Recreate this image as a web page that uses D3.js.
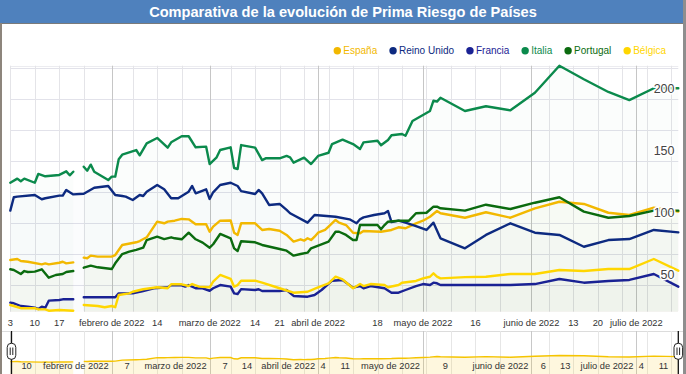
<!DOCTYPE html>
<html><head><meta charset="utf-8">
<script src="https://cdn.jsdelivr.net/npm/d3@7"></script>
<style>
html,body{margin:0;padding:0;background:#fff;}
svg{display:block;font-family:Arial,"Liberation Sans",sans-serif;}
</style></head><body>
<svg id="chart" width="686" height="374"></svg>
<script>
const title = "Comparativa de la evolución de Prima Riesgo de Países";
const seriesNames = ["España","Reino Unido","Francia","Italia","Portugal","Bélgica"];
const seriesColors = ["#f2b800","#0d2a80","#1a2294","#0b8a4c","#0b6b0f","#ffd600"];

const espana = [["2022-01-03",70.4],["2022-01-05",71.2],["2022-01-06",69.6],["2022-01-08",69.0],["2022-01-12",66.9],["2022-01-13",67.7],["2022-01-14",66.9],["2022-01-17",68.2],["2022-01-18",69.0],["2022-01-19",67.7],["2022-01-21",68.5],["2022-01-22",null],["2022-01-24",72.3],["2022-01-25",71.8],["2022-01-26",73.9],["2022-01-28",73.1],["2022-02-01",73.1],["2022-02-02",74.4],["2022-02-04",82.5],["2022-02-08",84.7],["2022-02-09",85.7],["2022-02-11",88.7],["2022-02-14",101.3],["2022-02-16",100.0],["2022-02-17",101.3],["2022-02-19",102.1],["2022-02-21",103.5],["2022-02-23",103.2],["2022-02-25",99.2],["2022-02-28",99.2],["2022-03-01",93.2],["2022-03-02",97.3],["2022-03-04",102.1],["2022-03-07",102.3],["2022-03-08",92.4],["2022-03-09",90.6],["2022-03-10",100.0],["2022-03-14",100.0],["2022-03-16",94.6],["2022-03-18",95.4],["2022-03-21",94.0],["2022-03-23",90.6],["2022-03-25",85.2],["2022-03-27",87.1],["2022-03-28",86.0],["2022-03-29",87.9],["2022-03-30",86.5],["2022-03-31",89.2],["2022-04-01",92.4],["2022-04-03",94.6],["2022-04-04",97.3],["2022-04-06",102.7],["2022-04-07",100.5],["2022-04-09",98.6],["2022-04-11",92.4],["2022-04-13",91.9],["2022-04-14",93.8],["2022-04-19",93.2],["2022-04-22",94.6],["2022-04-24",96.8],["2022-04-26",96.0],["2022-04-27",97.3],["2022-04-29",100.0],["2022-05-01",102.1],["2022-05-03",105.3],["2022-05-05",109.9],["2022-05-06",108.1],["2022-05-13",104.5],["2022-05-19",108.9],["2022-05-26",104.5],["2022-06-02",112.1],["2022-06-09",117.4],["2022-06-16",115.6],["2022-06-23",108.5],["2022-06-29",106.7],["2022-07-06",112.6],["2022-07-13",109.4]];

const reinoUnido = [["2022-01-03",110.2],["2022-01-04",121.0],["2022-01-05",121.5],["2022-01-10",122.8],["2022-01-12",119.4],["2022-01-13",120.2],["2022-01-17",122.3],["2022-01-18",122.3],["2022-01-19",126.9],["2022-01-20",125.0],["2022-01-21",123.3],["2022-01-24",123.8],["2022-01-27",128.7],["2022-01-31",130.1],["2022-02-02",122.8],["2022-02-04",122.0],["2022-02-05",121.5],["2022-02-07",118.8],["2022-02-09",122.8],["2022-02-10",122.0],["2022-02-11",125.5],["2022-02-14",130.9],["2022-02-16",127.4],["2022-02-18",120.2],["2022-02-20",120.2],["2022-02-23",125.5],["2022-02-24",130.1],["2022-02-25",124.2],["2022-02-28",127.4],["2022-03-01",119.6],["2022-03-02",125.0],["2022-03-04",130.9],["2022-03-07",132.7],["2022-03-09",130.1],["2022-03-10",126.0],["2022-03-14",123.6],["2022-03-15",126.9],["2022-03-16",124.2],["2022-03-18",114.8],["2022-03-21",115.6],["2022-03-23",110.8],["2022-03-24",108.1],["2022-03-29",100.5],["2022-03-31",106.7],["2022-04-06",105.3],["2022-04-10",103.2],["2022-04-12",100.0],["2022-04-13",103.2],["2022-04-14",104.8],["2022-04-17",106.7],["2022-04-20",108.1],["2022-04-21",109.9],["2022-04-22",101.0],["2022-04-24",102.1],["2022-04-26",100.5],["2022-04-29",97.8],["2022-05-02",94.6],["2022-05-04",100.5],["2022-05-06",87.9],["2022-05-13",79.8],["2022-05-19",90.6],["2022-05-26",100.0],["2022-06-02",92.4],["2022-06-09",90.6],["2022-06-16",81.1],["2022-06-23",86.5],["2022-06-29",87.3],["2022-07-06",94.6],["2022-07-13",92.7]];

const francia = [["2022-01-03",36.0],["2022-01-04",35.5],["2022-01-06",33.3],["2022-01-08",32.7],["2022-01-10",31.9],["2022-01-11",30.9],["2022-01-12",32.7],["2022-01-13",31.9],["2022-01-14",37.6],["2022-01-17",38.1],["2022-01-18",38.7],["2022-01-21",38.7],["2022-01-22",null],["2022-01-24",40.3],["2022-02-02",40.3],["2022-02-03",43.5],["2022-02-07",43.5],["2022-02-10",45.4],["2022-02-13",47.6],["2022-02-17",48.4],["2022-02-18",50.0],["2022-02-21",50.0],["2022-02-22",48.9],["2022-02-23",50.2],["2022-02-25",47.6],["2022-02-27",47.6],["2022-03-01",45.6],["2022-03-02",47.6],["2022-03-04",50.2],["2022-03-07",48.9],["2022-03-08",43.5],["2022-03-09",43.0],["2022-03-10",46.9],["2022-03-14",46.2],["2022-03-15",46.8],["2022-03-16",45.4],["2022-03-21",45.4],["2022-03-23",46.2],["2022-03-25",41.4],["2022-03-29",40.8],["2022-03-31",42.2],["2022-04-02",46.2],["2022-04-05",53.7],["2022-04-08",54.3],["2022-04-11",48.1],["2022-04-13",49.4],["2022-04-14",47.6],["2022-04-16",49.4],["2022-04-20",47.6],["2022-04-22",44.0],["2022-04-24",44.0],["2022-04-26",46.2],["2022-04-29",49.4],["2022-05-01",51.0],["2022-05-03",50.2],["2022-05-04",52.1],["2022-05-05",51.6],["2022-05-06",50.2],["2022-05-13",50.2],["2022-05-19",50.2],["2022-05-26",50.2],["2022-06-02",51.0],["2022-06-09",55.1],["2022-06-16",52.1],["2022-06-23",53.5],["2022-06-29",54.3],["2022-07-06",59.1],["2022-07-13",48.9]];

const italia = [["2022-01-03",132.7],["2022-01-05",136.0],["2022-01-06",133.9],["2022-01-07",136.0],["2022-01-10",132.7],["2022-01-11",139.8],["2022-01-13",137.9],["2022-01-17",139.0],["2022-01-19",141.9],["2022-01-20",138.7],["2022-01-21",141.6],["2022-01-22",null],["2022-01-24",145.6],["2022-01-25",142.4],["2022-01-26",147.3],["2022-01-27",141.6],["2022-01-31",134.9],["2022-02-01",137.6],["2022-02-02",137.6],["2022-02-03",151.6],["2022-02-04",155.3],["2022-02-08",159.1],["2022-02-09",154.8],["2022-02-11",164.5],["2022-02-14",168.8],["2022-02-17",161.0],["2022-02-18",165.3],["2022-02-21",170.2],["2022-02-23",170.2],["2022-02-25",161.3],["2022-02-28",161.8],["2022-03-01",147.8],["2022-03-03",153.2],["2022-03-04",159.1],["2022-03-07",161.3],["2022-03-08",144.6],["2022-03-09",143.8],["2022-03-10",163.1],["2022-03-14",161.0],["2022-03-16",151.0],["2022-03-17",152.4],["2022-03-21",152.4],["2022-03-23",154.3],["2022-03-24",153.2],["2022-03-25",148.9],["2022-03-28",152.9],["2022-03-30",147.8],["2022-04-01",154.3],["2022-04-04",156.9],["2022-04-05",163.9],["2022-04-08",167.4],["2022-04-11",163.9],["2022-04-13",159.9],["2022-04-14",165.3],["2022-04-18",166.6],["2022-04-19",162.9],["2022-04-21",167.2],["2022-04-22",171.0],["2022-04-25",172.0],["2022-04-26",170.6],["2022-04-28",182.5],["2022-05-03",190.6],["2022-05-04",198.9],["2022-05-05",198.1],["2022-05-06",201.3],["2022-05-13",190.6],["2022-05-19",194.4],["2022-05-26",191.1],["2022-06-02",205.3],["2022-06-09",227.1],["2022-06-16",216.2],["2022-06-23",205.9],["2022-06-29",199.4],["2022-07-06",208.9],["2022-07-13",208.9]];

const portugal = [["2022-01-03",62.9],["2022-01-04",62.3],["2022-01-06",59.1],["2022-01-07",61.5],["2022-01-08",60.7],["2022-01-10",61.0],["2022-01-12",62.9],["2022-01-14",56.1],["2022-01-16",58.3],["2022-01-18",59.1],["2022-01-19",60.7],["2022-01-21",61.5],["2022-01-22",null],["2022-01-24",64.2],["2022-01-26",65.8],["2022-01-28",64.5],["2022-02-01",63.1],["2022-02-02",67.7],["2022-02-04",75.2],["2022-02-06",77.1],["2022-02-08",78.5],["2022-02-10",80.3],["2022-02-11",86.5],["2022-02-14",89.2],["2022-02-16",87.3],["2022-02-18",88.7],["2022-02-19",87.9],["2022-02-21",87.1],["2022-02-23",92.4],["2022-02-25",87.1],["2022-02-27",84.4],["2022-03-01",80.3],["2022-03-02",83.1],["2022-03-04",91.4],["2022-03-07",87.9],["2022-03-08",79.8],["2022-03-09",77.7],["2022-03-10",85.5],["2022-03-14",84.7],["2022-03-16",82.5],["2022-03-21",79.3],["2022-03-23",77.9],["2022-03-25",73.9],["2022-03-27",75.2],["2022-03-29",76.3],["2022-03-30",79.8],["2022-04-04",85.2],["2022-04-06",93.2],["2022-04-07",93.2],["2022-04-09",90.6],["2022-04-11",86.5],["2022-04-12",86.5],["2022-04-13",98.6],["2022-04-14",98.6],["2022-04-18",98.6],["2022-04-19",95.2],["2022-04-20",98.6],["2022-04-21",101.3],["2022-04-24",102.1],["2022-04-27",102.1],["2022-04-29",108.1],["2022-05-02",108.5],["2022-05-04",113.4],["2022-05-05",113.4],["2022-05-06",112.1],["2022-05-13",110.2],["2022-05-19",115.0],["2022-05-26",111.5],["2022-06-02",116.6],["2022-06-09",121.0],["2022-06-16",109.4],["2022-06-23",104.5],["2022-06-29",105.9],["2022-07-06",110.2],["2022-07-13",110.2]];

const belgica = [["2022-01-03",34.1],["2022-01-04",33.3],["2022-01-06",31.5],["2022-01-10",31.5],["2022-01-11",30.6],["2022-01-13",30.6],["2022-01-14",29.5],["2022-01-17",30.1],["2022-01-21",29.5],["2022-01-22",null],["2022-01-24",34.1],["2022-01-28",33.3],["2022-01-30",32.3],["2022-02-01",33.3],["2022-02-02",32.3],["2022-02-03",42.2],["2022-02-06",43.5],["2022-02-07",44.8],["2022-02-10",46.8],["2022-02-14",48.4],["2022-02-17",47.6],["2022-02-18",50.8],["2022-02-21",50.8],["2022-02-23",49.4],["2022-02-24",51.0],["2022-02-26",48.9],["2022-03-01",48.4],["2022-03-02",52.9],["2022-03-04",58.3],["2022-03-07",55.2],["2022-03-08",48.9],["2022-03-09",50.2],["2022-03-10",53.7],["2022-03-14",53.7],["2022-03-16",52.1],["2022-03-21",47.6],["2022-03-25",44.0],["2022-03-29",44.8],["2022-04-01",48.4],["2022-04-04",51.6],["2022-04-06",56.9],["2022-04-08",54.8],["2022-04-11",47.6],["2022-04-13",51.0],["2022-04-14",49.4],["2022-04-16",51.0],["2022-04-20",50.2],["2022-04-21",48.4],["2022-04-24",50.2],["2022-04-25",52.1],["2022-04-29",53.5],["2022-05-01",55.6],["2022-05-03",56.9],["2022-05-04",59.7],["2022-05-05",57.0],["2022-05-06",55.6],["2022-05-13",56.6],["2022-05-19",56.9],["2022-05-26",59.1],["2022-06-02",59.1],["2022-06-09",62.3],["2022-06-16",61.5],["2022-06-23",63.1],["2022-06-29",63.1],["2022-07-06",71.2],["2022-07-13",61.8]];

const yLabelTicks = [50, 100, 150, 200];
const yGridTicks = [50, 75, 100, 125, 150, 175, 200, 225];
const axisLabels = [["2022-01-03","3"],["2022-01-10","10"],["2022-01-17","17"],["2022-02-01","febrero de 2022"],["2022-02-14","14"],["2022-03-01","marzo de 2022"],["2022-03-14","14"],["2022-03-21","21"],["2022-04-01","abril de 2022"],["2022-04-18","18"],["2022-05-01","mayo de 2022"],["2022-05-16","16"],["2022-06-01","junio de 2022"],["2022-06-13","13"],["2022-06-20","20"],["2022-07-01","julio de 2022"]];
const rangeLabels = [["2022-01-10","10"],["2022-02-01","febrero de 2022"],["2022-02-07","7"],["2022-03-01","marzo de 2022"],["2022-03-07","7"],["2022-03-14","14"],["2022-04-01","abril de 2022"],["2022-04-04","4"],["2022-04-11","11"],["2022-05-01","mayo de 2022"],["2022-05-09","9"],["2022-06-01","junio de 2022"],["2022-06-06","6"],["2022-06-13","13"],["2022-07-01","julio de 2022"],["2022-07-04","4"],["2022-07-11","11"]];

const parse = d3.timeParse("%Y-%m-%d");
const allSeries = [espana, reinoUnido, francia, italia, portugal, belgica].map((arr, i) => ({
  name: seriesNames[i], color: seriesColors[i],
  values: arr.map(([d, v]) => ({date: parse(d), value: v}))
}));

const svg = d3.select("#chart");
const W = 686, H = 374;
const plot = {left: 10.3, right: 678.3, top: 65.7, bottom: 311.7};
const startDate = parse("2022-01-03"), endDate = parse("2022-07-13");
const x = d3.scaleTime().domain([startDate, endDate]).range([plot.left, plot.right]);
const y = d3.scaleLinear().domain([28.7, 227.1]).range([plot.bottom, plot.top]);

// background
svg.append("rect").attr("width", W).attr("height", H).attr("fill", "#fff");

// title bar
svg.append("rect").attr("x", 0).attr("y", 0).attr("width", 683).attr("height", 23).attr("fill", "#4f81bd");
svg.append("line").attr("x1", 0).attr("x2", 683).attr("y1", 23.5).attr("y2", 23.5).attr("stroke", "#7a7a7a").attr("stroke-width", 1.2);
svg.append("text").attr("x", 343).attr("y", 17).attr("text-anchor", "middle")
  .attr("fill", "#fff").attr("font-weight", "bold").attr("font-size", "14.6px").text(title);

// frame borders
svg.append("rect").attr("x", 0).attr("y", 23).attr("width", 2).attr("height", H - 23).attr("fill", "#8d857c");
svg.append("rect").attr("x", 683).attr("y", 0).attr("width", 3).attr("height", H).attr("fill", "#8e8e8e");

// grid ticks
const months = d3.timeMonth.range(d3.timeMonth.ceil(startDate), d3.timeDay.offset(endDate, 1));
const weeks = d3.timeMonday.range(startDate, d3.timeDay.offset(endDate, 1)).filter(d => {
  const nextMonth = d3.timeMonth.ceil(d);
  return (nextMonth - d) / 864e5 > 2 || d.getDate() === 1;
});
const crisp = v => Math.round(v) + 0.5;

const grid = svg.append("g");
yGridTicks.forEach(t => {
  grid.append("line").attr("x1", plot.left).attr("x2", plot.right)
    .attr("y1", crisp(y(t))).attr("y2", crisp(y(t))).attr("stroke", "#e2e2ea");
});
grid.append("line").attr("x1", plot.left).attr("x2", plot.right)
  .attr("y1", crisp(plot.top)).attr("y2", crisp(plot.top)).attr("stroke", "#ececf0");
weeks.forEach(d => {
  grid.append("line").attr("x1", crisp(x(d))).attr("x2", crisp(x(d)))
    .attr("y1", plot.top).attr("y2", plot.bottom).attr("stroke", "#e4e4e8");
});
months.forEach(d => {
  grid.append("line").attr("x1", crisp(x(d))).attr("x2", crisp(x(d)))
    .attr("y1", plot.top).attr("y2", plot.bottom).attr("stroke", "#c6c6c6");
});

// areas
const area = d3.area().defined(d => d.value != null)
  .x(d => x(d.date)).y0(plot.bottom).y1(d => y(d.value));
svg.append("g").selectAll("path").data(allSeries).join("path")
  .attr("d", s => area(s.values)).attr("fill", s => s.color).attr("fill-opacity", 0.016);

// lines
const line = d3.line().defined(d => d.value != null)
  .x(d => x(d.date)).y(d => y(d.value));
svg.append("g").selectAll("path").data(allSeries).join("path")
  .attr("d", s => line(s.values)).attr("fill", "none").attr("stroke", s => s.color)
  .attr("stroke-width", 2.4).attr("stroke-linejoin", "round").attr("stroke-linecap", "round");

// y labels (right side, inside)
svg.append("g").selectAll("text").data(yLabelTicks).join("text")
  .attr("x", 674.5).attr("y", t => y(t) - 6.5).attr("text-anchor", "end")
  .attr("font-size", "12.5px").attr("fill", "#444")
  .attr("stroke", "#fff").attr("stroke-width", 3).attr("paint-order", "stroke")
  .text(t => t);

// x axis labels
svg.append("g").selectAll("text").data(axisLabels).join("text")
  .attr("x", d => x(parse(d[0]))).attr("y", 325.5).attr("text-anchor", "middle")
  .attr("font-size", "9.3px").attr("fill", "#333").text(d => d[1]);

// legend
const legend = svg.append("g");
const items = legend.selectAll("g").data(allSeries).join("g");
items.append("circle").attr("r", 3.7).attr("cy", 50.7).attr("fill", s => s.color);
items.append("text").attr("y", 54.3).attr("font-size", "10px").attr("fill", s => s.color).text(s => s.name);
const widths = [];
items.select("text").each(function () { widths.push(this.getComputedTextLength()); });
const legStart = 337.3, legEnd = 666;
const totalText = d3.sum(widths);
const gap = (legEnd - legStart - 6 * allSeries.length - totalText) / (allSeries.length - 1);
let cx = legStart;
items.each(function (s, i) {
  const g = d3.select(this);
  g.select("circle").attr("cx", cx);
  g.select("text").attr("x", cx + 6);
  cx += 6 + widths[i] + gap;
});

// range selector
const rTop = 331, rBottom = 374;
const ry = d3.scaleLinear().domain([0, 310]).range([370.8, 330.5]);
svg.append("line").attr("x1", 2).attr("x2", 683).attr("y1", rTop + 0.5).attr("y2", rTop + 0.5).attr("stroke", "#dcdcdc");
const rg = svg.append("g");
weeks.forEach(d => {
  rg.append("line").attr("x1", crisp(x(d))).attr("x2", crisp(x(d)))
    .attr("y1", rTop).attr("y2", rBottom).attr("stroke", "#e6e6e6");
});
months.forEach(d => {
  rg.append("line").attr("x1", crisp(x(d))).attr("x2", crisp(x(d)))
    .attr("y1", rTop).attr("y2", rBottom).attr("stroke", "#c8c8c8");
});
const rangeSeries = allSeries[0];
const rArea = d3.area().defined(d => d.value != null).x(d => x(d.date)).y0(rBottom).y1(d => ry(d.value));
const rLine = d3.line().defined(d => d.value != null).x(d => x(d.date)).y(d => ry(d.value));
rg.append("path").attr("d", rArea(rangeSeries.values)).attr("fill", "#f5c400").attr("fill-opacity", 0.13);
rg.append("path").attr("d", rLine(rangeSeries.values)).attr("fill", "none").attr("stroke", "#f5c400").attr("stroke-width", 1.4);
rg.selectAll("text").data(rangeLabels).join("text")
  .attr("x", d => x(parse(d[0])) - 3).attr("y", 368.5).attr("text-anchor", "end")
  .attr("font-size", "9.3px").attr("fill", "#333").text(d => d[1]);

// handles
[x(startDate) + 1.2, x(endDate)].forEach(hx => {
  const h = svg.append("g");
  h.append("line").attr("x1", hx).attr("x2", hx).attr("y1", rTop).attr("y2", rBottom).attr("stroke", "#111").attr("stroke-width", 1.3);
  h.append("rect").attr("x", hx - 4.3).attr("y", 343.3).attr("width", 8.6).attr("height", 16).attr("rx", 4)
    .attr("fill", "#fff").attr("stroke", "#222").attr("stroke-width", 1);
  [-1.3, 1.3].forEach(o => h.append("line").attr("x1", hx + o).attr("x2", hx + o).attr("y1", 347.5).attr("y2", 355)
    .attr("stroke", "#222").attr("stroke-width", 1));
});
</script>
</body></html>
